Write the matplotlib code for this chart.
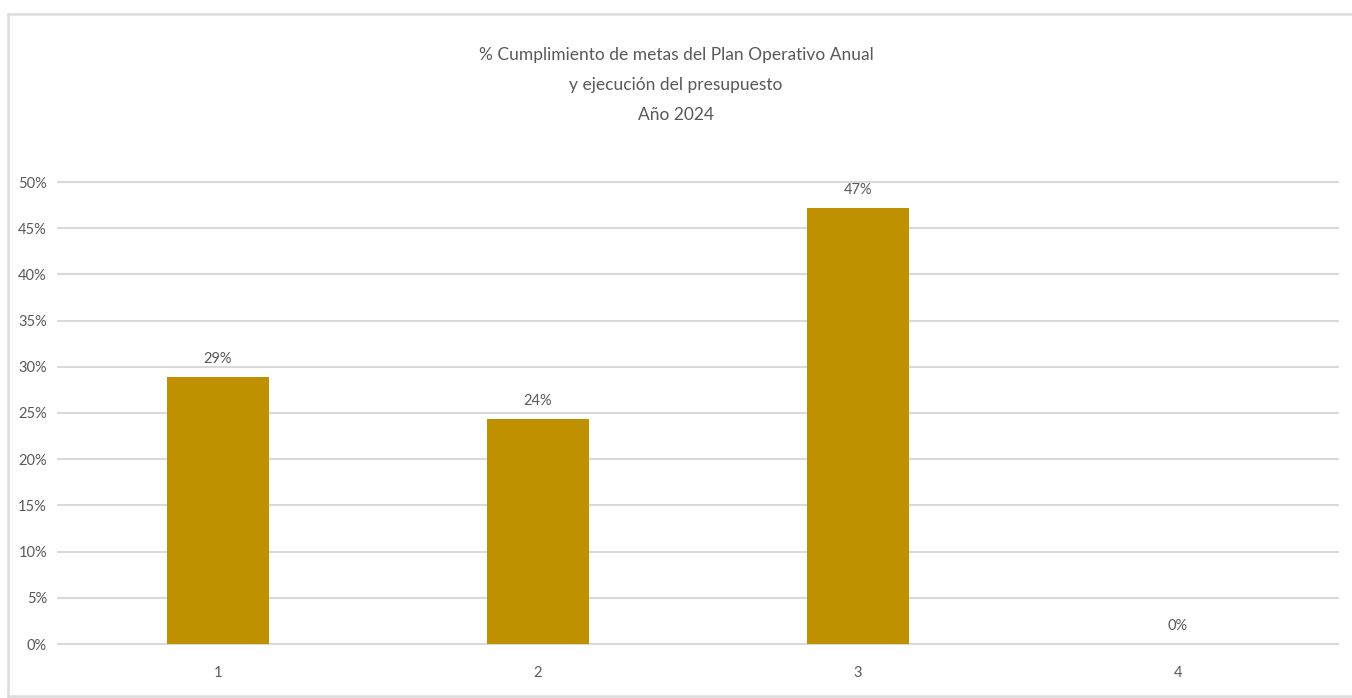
import matplotlib.pyplot as plt
from matplotlib.lines import Line2D
from matplotlib.ticker import PercentFormatter

categories = ['1', '2', '3', '4']
values = [0.289, 0.2435, 0.472, 0.0]
labels = ['29%', '24%', '47%', '0%']

plt.rcParams['font.family'] = ['Lato', 'DejaVu Sans']
text_color = '#595959'
bar_color = '#BF9000'

fig = plt.figure(figsize=(13.52, 6.98), dpi=100)
ax = fig.add_axes([58 / 1352, 1 - 644 / 698, 1280 / 1352, 462 / 698])

x = range(1, len(categories) + 1)
ax.bar(x, values, width=0.32, color=bar_color, zorder=3)
for xi, v, lab in zip(x, values, labels):
    ax.annotate(lab, (xi, v), xytext=(0, 8), textcoords='offset points',
                ha='center', va='bottom', fontsize=10.5, color=text_color)

ax.set_xlim(0.5, 4.5)
ax.set_ylim(0, 0.5)
ax.set_xticks(list(x))
ax.set_xticklabels(categories)
ax.set_yticks([i * 0.05 for i in range(11)])
ax.yaxis.set_major_formatter(PercentFormatter(1.0, decimals=0))
ax.grid(axis='y', color='#d9d9d9', linewidth=1.5, zorder=0)
for gl in ax.get_ygridlines():
    gl.set_clip_on(False)
for s in ax.spines.values():
    s.set_visible(False)
ax.tick_params(axis='both', length=0, colors=text_color, labelsize=10.5)
ax.tick_params(axis='y', pad=8)
ax.tick_params(axis='x', pad=16)

fig.text(0.5, 1 - 55 / 698, '% Cumplimiento de metas del Plan Operativo Anual',
         ha='center', va='center', fontsize=12.5, color=text_color)
fig.text(0.5, 1 - 85 / 698, 'y ejecución del presupuesto',
         ha='center', va='center', fontsize=12.5, color=text_color)
fig.text(0.5, 1 - 115 / 698, 'Año 2024',
         ha='center', va='center', fontsize=12.5, color=text_color)

# chart frame
frame = '#dcdcdc'
fig.add_artist(Line2D([8 / 1352, 1], [1 - 14 / 698] * 2, color=frame, lw=1.8, transform=fig.transFigure))
fig.add_artist(Line2D([8 / 1352] * 2, [0, 1 - 14 / 698], color=frame, lw=1.8, transform=fig.transFigure))
fig.add_artist(Line2D([8 / 1352, 1], [1 - 696 / 698] * 2, color=frame, lw=1.8, transform=fig.transFigure))

fig.savefig('out.png', dpi=100, facecolor='white')
